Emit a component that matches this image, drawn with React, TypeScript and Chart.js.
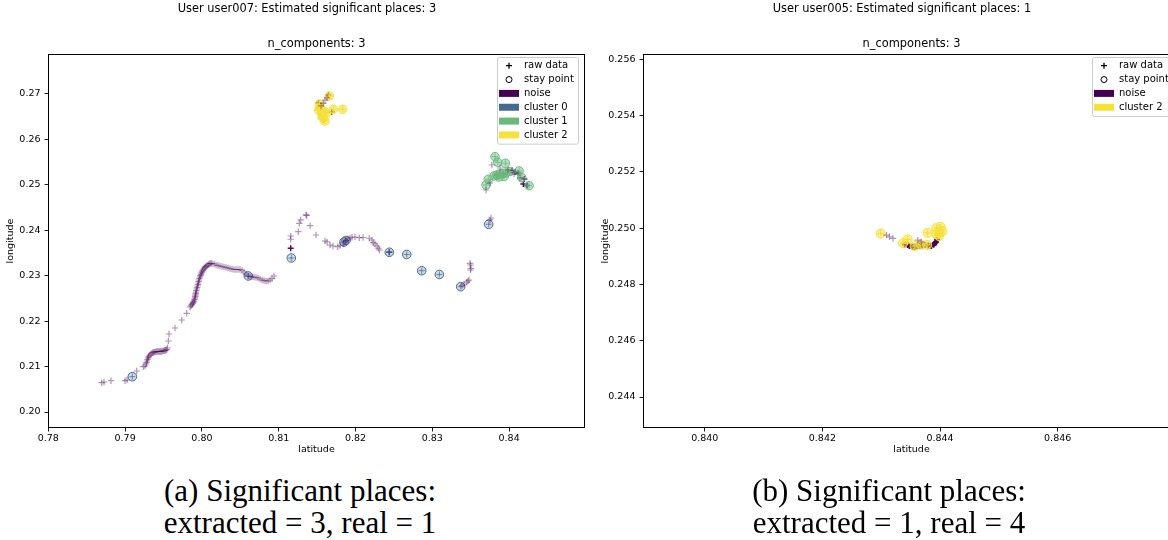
import React, { useEffect, useRef } from 'react';
import { Chart, registerables } from 'chart.js';
Chart.register(...registerables);

type Pt = [number, number];

// ---------- User user007 (left figure) ----------
const u7Trail: Pt[] = [
  [0.78695, 0.20645], [0.78725, 0.20661], [0.78816, 0.20689], [0.78999, 0.20689], [0.79025, 0.20705],
  [0.79151, 0.20903], [0.79237, 0.20997], [0.79259, 0.21013],
  [0.79272, 0.21057], [0.79280, 0.21090], [0.79285, 0.21123], [0.79292, 0.21156], [0.79298, 0.21189],
  [0.79304, 0.21211], [0.79311, 0.21233], [0.79324, 0.21255], [0.79337, 0.21277], [0.79350, 0.21295],
  [0.79363, 0.21310], [0.79376, 0.21316], [0.79389, 0.21321], [0.79402, 0.21327], [0.79415, 0.21332],
  [0.79428, 0.21332], [0.79441, 0.21332], [0.79454, 0.21332], [0.79467, 0.21332], [0.79480, 0.21338],
  [0.79493, 0.21343], [0.79506, 0.21348], [0.79520, 0.21354], [0.79531, 0.21365], [0.79542, 0.21376],
  [0.79552, 0.21409],
  [0.79563, 0.21563], [0.79572, 0.21717], [0.79650, 0.21849], [0.79737, 0.22025], [0.79802, 0.22173],
  [0.79845, 0.22311], [0.79856, 0.22333], [0.79867, 0.22356], [0.79876, 0.22378], [0.79884, 0.22400],
  [0.79890, 0.22422], [0.79897, 0.22444], [0.79904, 0.22477], [0.79910, 0.22510], [0.79914, 0.22543],
  [0.79917, 0.22576], [0.79920, 0.22609], [0.79923, 0.22642], [0.79927, 0.22675], [0.79932, 0.22708],
  [0.79938, 0.22741], [0.79943, 0.22774], [0.79948, 0.22807], [0.79953, 0.22840], [0.79958, 0.22873],
  [0.79962, 0.22906], [0.79968, 0.22939], [0.79975, 0.22972], [0.79981, 0.23000], [0.79988, 0.23027],
  [0.79994, 0.23055], [0.80001, 0.23082], [0.80007, 0.23104], [0.80014, 0.23126], [0.80024, 0.23148],
  [0.80034, 0.23170], [0.80043, 0.23187], [0.80053, 0.23203], [0.80066, 0.23220], [0.80079, 0.23236],
  [0.80092, 0.23253], [0.80105, 0.23269], [0.80118, 0.23272], [0.80132, 0.23269], [0.80158, 0.23258],
  [0.80184, 0.23236], [0.80210, 0.23225], [0.80236, 0.23214], [0.80262, 0.23203], [0.80288, 0.23192],
  [0.80314, 0.23181], [0.80340, 0.23170], [0.80366, 0.23159], [0.80392, 0.23148], [0.80418, 0.23137],
  [0.80444, 0.23137], [0.80470, 0.23137], [0.80496, 0.23137], [0.80522, 0.23115], [0.80548, 0.23082],
  [0.80574, 0.23038], [0.80600, 0.22994], [0.80626, 0.22983], [0.80652, 0.22972], [0.80678, 0.22972],
  [0.80704, 0.22961], [0.80730, 0.22950], [0.80757, 0.22928], [0.80783, 0.22906], [0.80809, 0.22895],
  [0.80835, 0.22884], [0.80861, 0.22884], [0.80887, 0.22906], [0.80913, 0.22939], [0.80939, 0.22994],
  [0.81156, 0.23802], [0.81156, 0.23874], [0.81255, 0.23969], [0.81268, 0.24154], [0.81286, 0.24227],
  [0.81355, 0.24337], [0.81365, 0.24326], [0.81408, 0.24101], [0.81486, 0.23896], [0.81603, 0.23764],
  [0.81629, 0.23742], [0.81668, 0.23676], [0.81707, 0.23654], [0.81768, 0.23639], [0.81798, 0.23665],
  [0.81841, 0.23698], [0.81863, 0.23742], [0.81876, 0.23775], [0.81902, 0.23808], [0.81928, 0.23830],
  [0.81954, 0.23846], [0.81993, 0.23852], [0.82049, 0.23837], [0.82098, 0.23841], [0.82180, 0.23824],
  [0.82215, 0.23786], [0.82232, 0.23727], [0.82254, 0.23698], [0.82280, 0.23654], [0.82297, 0.23604],
  [0.82313, 0.23566],
  [0.83491, 0.23273], [0.83497, 0.23236], [0.83504, 0.23163], [0.83497, 0.23126], [0.83478, 0.22906],
  [0.83465, 0.22884], [0.83448, 0.22856], [0.83413, 0.22818], [0.83387, 0.22785],
  [0.83751, 0.24227], [0.83764, 0.24270],
  [0.83775, 0.25437], [0.83882, 0.25371], [0.83699, 0.24887], [0.83986, 0.25327], [0.84064, 0.25239],
  [0.84142, 0.25151], [0.83751, 0.25041],
  [0.81603, 0.26868], [0.81581, 0.26795], [0.81629, 0.26912], [0.81551, 0.26736],
];

const u7Cluster0: Pt[] = [
  [0.79094, 0.20777], [0.80604, 0.22994], [0.81164, 0.23390], [0.81876, 0.23775], [0.81850, 0.23742],
  [0.82440, 0.23516], [0.82667, 0.23467], [0.82862, 0.23110], [0.83091, 0.23027], [0.83370, 0.22758],
  [0.83734, 0.24132],
];

const u7Cluster1: Pt[] = [
  [0.83816, 0.25620], [0.83852, 0.25497], [0.83951, 0.25475], [0.84129, 0.25305], [0.84164, 0.25158],
  [0.84259, 0.24982], [0.83699, 0.24997], [0.83729, 0.25122], [0.83803, 0.25195], [0.83842, 0.25217],
  [0.83881, 0.25239], [0.83921, 0.25250], [0.83960, 0.25261], [0.83868, 0.25173], [0.83934, 0.25184],
  [0.84012, 0.25294],
];

const u7Cluster2: Pt[] = [
  [0.81659, 0.26956], [0.81538, 0.26685], [0.81529, 0.26780], [0.81560, 0.26582], [0.81581, 0.26472],
  [0.81603, 0.26406], [0.81625, 0.26575], [0.81564, 0.26494], [0.81711, 0.26663], [0.81833, 0.26663],
  [0.81518, 0.26648], [0.81590, 0.26626],
];

const u7NoiseDark: Pt[] = [
  [0.81156, 0.23604], [0.82440, 0.23516],
  [0.81646, 0.26978], [0.81529, 0.26685], [0.81538, 0.26575], [0.81603, 0.26575], [0.81581, 0.26428],
  [0.81560, 0.26487], [0.81690, 0.26610], [0.81518, 0.26802],
  [0.84120, 0.25254], [0.84185, 0.25019], [0.84233, 0.24986], [0.84038, 0.25316], [0.84077, 0.25283],
  [0.84198, 0.25129], [0.83839, 0.25217], [0.83925, 0.25232],
];

const u7XTicks = [0.78, 0.79, 0.80, 0.81, 0.82, 0.83, 0.84];
const u7YTicks = [0.20, 0.21, 0.22, 0.23, 0.24, 0.25, 0.26, 0.27];

// ---------- User user005 (right figure) ----------
const u5Trail: Pt[] = [
  [0.84309, 0.24975], [0.84314, 0.24969], [0.84320, 0.24963], [0.84362, 0.24957], [0.84368, 0.24951],
];

const u5Cluster2: Pt[] = [
  [0.84299, 0.24981], [0.84345, 0.24960], [0.84337, 0.24946], [0.84357, 0.24936], [0.84378, 0.24940],
  [0.84379, 0.24983], [0.84367, 0.24941],
  [0.84394, 0.25000], [0.84401, 0.25004], [0.84399, 0.24982], [0.84393, 0.24979], [0.84404, 0.24989],
  [0.84398, 0.24972],
];

const u5NoiseDark: Pt[] = [
  [0.84340, 0.24942], [0.84345, 0.24940], [0.84348, 0.24936], [0.84353, 0.24934], [0.84357, 0.24934],
  [0.84361, 0.24935], [0.84365, 0.24936], [0.84370, 0.24938], [0.84374, 0.24940], [0.84380, 0.24938],
  [0.84385, 0.24936], [0.84389, 0.24941], [0.84391, 0.24946], [0.84393, 0.24950], [0.84395, 0.24959],
];

const u5XTicks = [0.840, 0.842, 0.844, 0.846];
const u5YTicks = [0.244, 0.246, 0.248, 0.250, 0.252, 0.254, 0.256];

// ---------- colours ----------
const NOISE = '#440154';
const C0 = '#456a92';
const C1 = '#69b97c';
const C2 = '#f5e23a';

const FONT = '"DejaVu Sans", sans-serif';

type LegendItem = { kind: 'plus' | 'circle' | 'patch'; label: string; color?: string };

type FigCfg = {
  suptitle: string;
  subtitle: string;
  xMin: number; xMax: number; yMin: number; yMax: number;
  xTicks: number[]; yTicks: number[]; dec: number;
  datasets: any[];
  legend: LegendItem[];
};

const toXY = (arr: Pt[]) => arr.map(([x, y]) => ({ x, y }));

const crossDs = (data: Pt[], color: string, r = 3, w = 1.2) => ({
  data: toXY(data), showLine: false, pointStyle: 'cross', pointRadius: r,
  pointBorderColor: color, pointBackgroundColor: color, pointBorderWidth: w, borderColor: color,
});
const circleDs = (data: Pt[], edge: string, fill: string, r = 4.3) => ({
  data: toXY(data), showLine: false, pointStyle: 'circle', pointRadius: r,
  pointBorderColor: edge, pointBackgroundColor: fill, pointBorderWidth: 1, borderColor: edge,
});

const leftFig: FigCfg = {
  suptitle: 'User user007: Estimated significant places: 3',
  subtitle: 'n_components: 3',
  xMin: 0.77996, xMax: 0.84988, yMin: 0.19648, yMax: 0.27880,
  xTicks: u7XTicks, yTicks: u7YTicks, dec: 2,
  datasets: [
    crossDs(u7Trail, 'rgba(68,1,84,0.42)', 3.2, 1.2),
    circleDs(u7Cluster0, C0, 'rgba(69,106,146,0.25)'),
    crossDs(u7Cluster0, 'rgba(69,106,146,0.75)', 3, 1),
    circleDs(u7Cluster1, 'rgba(105,185,124,0.95)', 'rgba(105,185,124,0.45)'),
    crossDs(u7Cluster1, 'rgba(105,185,124,0.8)', 3, 1),
    circleDs(u7Cluster2, 'rgba(245,226,58,0.95)', 'rgba(245,226,58,0.65)'),
    crossDs(u7Cluster2, 'rgba(230,210,60,0.9)', 3, 1),
    crossDs(u7NoiseDark, 'rgba(68,1,84,0.95)', 3, 1.5),
  ],
  legend: [
    { kind: 'plus', label: 'raw data' },
    { kind: 'circle', label: 'stay point' },
    { kind: 'patch', label: 'noise', color: NOISE },
    { kind: 'patch', label: 'cluster 0', color: C0 },
    { kind: 'patch', label: 'cluster 1', color: C1 },
    { kind: 'patch', label: 'cluster 2', color: C2 },
  ],
};

const rightFig: FigCfg = {
  suptitle: 'User user005: Estimated significant places: 1',
  subtitle: 'n_components: 3',
  xMin: 0.83895, xMax: 0.84808, yMin: 0.24290, yMax: 0.25618,
  xTicks: u5XTicks, yTicks: u5YTicks, dec: 3,
  datasets: [
    crossDs(u5Trail, 'rgba(68,1,84,0.42)', 3.2, 1.2),
    circleDs(u5Cluster2, 'rgba(245,226,58,0.95)', 'rgba(245,226,58,0.55)', 4.6),
    crossDs(u5Cluster2, 'rgba(230,210,60,0.9)', 3, 1),
    crossDs(u5NoiseDark, 'rgba(68,1,84,0.95)', 3, 2),
  ],
  legend: [
    { kind: 'plus', label: 'raw data' },
    { kind: 'circle', label: 'stay point' },
    { kind: 'patch', label: 'noise', color: NOISE },
    { kind: 'patch', label: 'cluster 2', color: C2 },
  ],
};

const decorPlugin = {
  id: 'decor',
  afterDraw(chart: any, _args: any, opts: any) {
    const { ctx, chartArea: a } = chart;
    ctx.save();
    ctx.strokeStyle = '#000';
    ctx.lineWidth = 1;
    const l = Math.round(a.left) + 0.5, t = Math.round(a.top) + 0.5;
    const r = Math.round(a.right) - 0.5, b = Math.round(a.bottom) - 0.5;
    ctx.strokeRect(l, t, r - l, b - t);
    ctx.fillStyle = '#000';
    ctx.textAlign = 'center';
    ctx.textBaseline = 'middle';
    ctx.font = `11.4px ${FONT}`;
    ctx.fillText(opts.suptitle, opts.supX, 9);
    ctx.fillText(opts.subtitle, (a.left + a.right) / 2, 44);
    const items: LegendItem[] = opts.items;
    const w = 81, rowH = 13.85;
    const h = 8.7 * 2 + rowH * (items.length - 1);
    const bx = a.right - 7 - w, by = a.top + 3;
    ctx.fillStyle = 'rgba(255,255,255,0.85)';
    ctx.strokeStyle = '#cccccc';
    ctx.lineWidth = 1;
    ctx.beginPath();
    if (ctx.roundRect) ctx.roundRect(bx + 0.5, by + 0.5, w, h, 2); else ctx.rect(bx + 0.5, by + 0.5, w, h);
    ctx.fill();
    ctx.stroke();
    ctx.font = `10px ${FONT}`;
    ctx.textAlign = 'left';
    items.forEach((it, i) => {
      const cy = by + 8.7 + i * rowH;
      const hx = bx + 12;
      if (it.kind === 'plus') {
        ctx.strokeStyle = '#000';
        ctx.lineWidth = 1.3;
        ctx.beginPath();
        ctx.moveTo(hx - 3, cy); ctx.lineTo(hx + 3, cy);
        ctx.moveTo(hx, cy - 3); ctx.lineTo(hx, cy + 3);
        ctx.stroke();
      } else if (it.kind === 'circle') {
        ctx.strokeStyle = '#000';
        ctx.lineWidth = 1;
        ctx.beginPath();
        ctx.arc(hx, cy, 3, 0, Math.PI * 2);
        ctx.stroke();
      } else {
        ctx.fillStyle = it.color || '#000';
        ctx.fillRect(bx + 2, cy - 3.5, 20, 7);
      }
      ctx.fillStyle = '#000';
      ctx.fillText(it.label, bx + 27, cy);
    });
    ctx.restore();
  },
};

function buildConfig(cfg: FigCfg): any {
  const tickFont = { family: FONT, size: 9.5 };
  return {
    type: 'scatter',
    data: { datasets: cfg.datasets },
    plugins: [decorPlugin],
    options: {
      animation: false,
      responsive: false,
      devicePixelRatio: 1,
      events: [],
      layout: { padding: { top: 54, left: 0, right: 15, bottom: 8 } },
      plugins: {
        legend: { display: false },
        tooltip: { enabled: false },
        title: { display: false },
        decor: { suptitle: cfg.suptitle, subtitle: cfg.subtitle, supX: 307, items: cfg.legend },
      },
      scales: {
        x: {
          type: 'linear',
          min: cfg.xMin,
          max: cfg.xMax,
          afterBuildTicks: (s: any) => { s.ticks = cfg.xTicks.map((v) => ({ value: v })); },
          afterFit: (s: any) => { s.height = 34; },
          ticks: {
            font: tickFont, color: '#000', padding: 1, autoSkip: false, maxRotation: 0,
            callback: (v: any) => Number(v).toFixed(cfg.dec),
          },
          grid: { display: true, drawOnChartArea: false, drawTicks: true, tickLength: 3.5, tickColor: '#000', tickWidth: 0.9 },
          border: { display: false },
          title: { display: true, text: 'latitude', font: tickFont, color: '#000', padding: { top: 0, bottom: 7 } },
        },
        y: {
          type: 'linear',
          min: cfg.yMin,
          max: cfg.yMax,
          afterBuildTicks: (s: any) => { s.ticks = cfg.yTicks.map((v) => ({ value: v })); },
          afterFit: (s: any) => { s.width = 48; },
          ticks: {
            font: tickFont, color: '#000', padding: 4, autoSkip: false,
            callback: (v: any) => Number(v).toFixed(cfg.dec),
          },
          grid: { display: true, drawOnChartArea: false, drawTicks: true, tickLength: 3.5, tickColor: '#000', tickWidth: 0.9 },
          border: { display: false },
          title: { display: true, text: 'longitude', font: tickFont, color: '#000', padding: { top: 5, bottom: 0 } },
        },
      },
    },
  };
}

function Figure({ cfg, left }: { cfg: FigCfg; left: number }) {
  const ref = useRef<HTMLCanvasElement>(null);
  useEffect(() => {
    const chart = new Chart(ref.current as HTMLCanvasElement, buildConfig(cfg));
    return () => chart.destroy();
  }, [cfg]);
  return (
    <canvas
      ref={ref}
      width={600}
      height={470}
      style={{ position: 'absolute', left, top: 0, width: 600, height: 470 }}
    />
  );
}

const captionStyle: React.CSSProperties = {
  position: 'absolute',
  top: 475,
  width: 600,
  textAlign: 'center',
  fontFamily: '"Liberation Serif", "Times New Roman", serif',
  fontSize: 31,
  lineHeight: '32px',
  color: '#000',
  whiteSpace: 'nowrap',
};

export default function App() {
  return (
    <div style={{ position: 'absolute', left: 0, top: 0, width: 1168, height: 540, overflow: 'hidden', background: '#fff' }}>
      <Figure cfg={leftFig} left={0} />
      <Figure cfg={rightFig} left={595} />
      <div style={{ ...captionStyle, left: 0 }}>
        (a) Significant places:<br />extracted = 3, real = 1
      </div>
      <div style={{ ...captionStyle, left: 589 }}>
        (b) Significant places:<br />extracted = 1, real = 4
      </div>
    </div>
  );
}
